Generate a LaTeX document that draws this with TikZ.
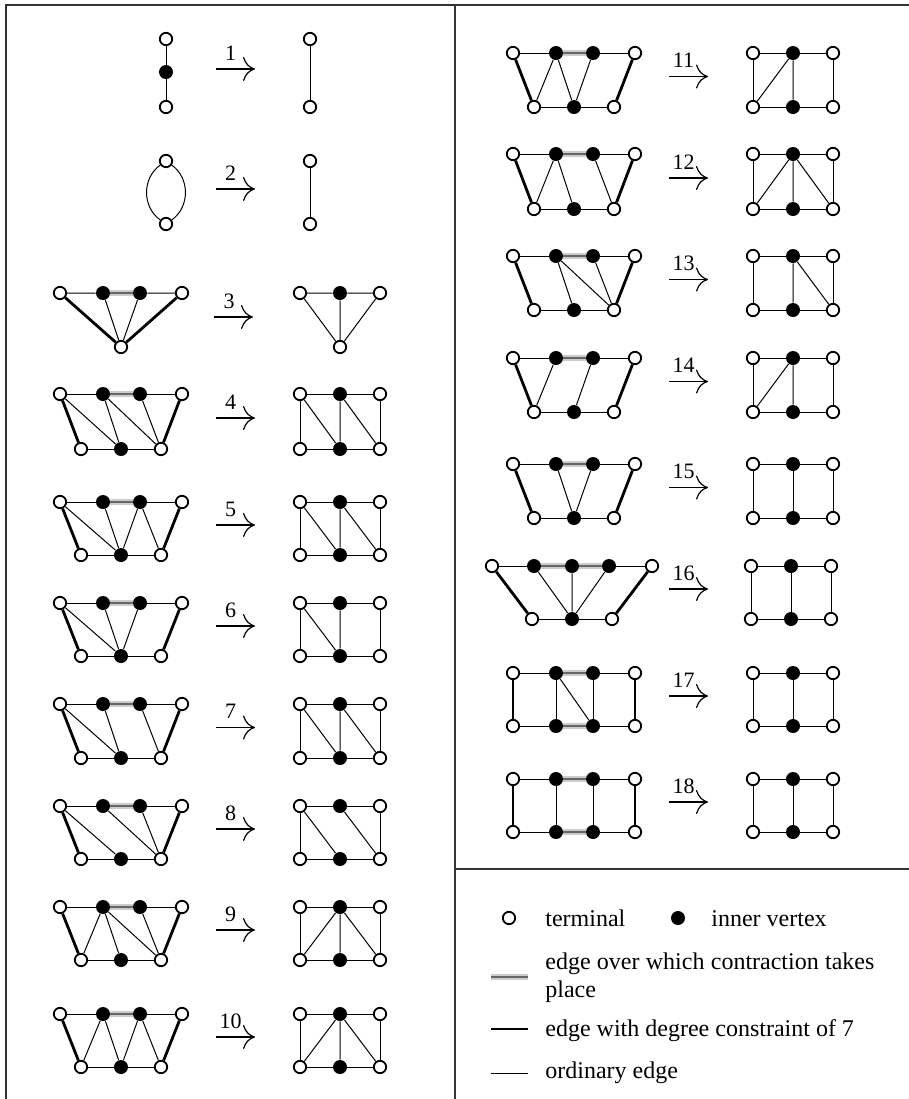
\documentclass[tikz,border=0pt]{standalone}
\usepackage{fontspec}
\setmainfont{Liberation Serif}
\usetikzlibrary{arrows.meta, positioning, calc}

\begin{document}
\begin{tikzpicture}[
    x=0.5pt, y=-0.5pt,
    tvert/.style={circle, draw, fill=white, line width=0.9pt, minimum size=6.2pt, inner sep=0pt},
    ivert/.style={circle, fill=black, minimum size=7pt, inner sep=0pt},
    plain/.style={line width=0.5pt},
    heavy/.style={line width=1.4pt},
    contr/.style={line width=3.2pt, gray!40, postaction={draw, gray!80!black, line width=0.6pt}},
    arr/.style={-{To[length=6pt, width=12pt]}, line width=0.6pt},
    num/.style={anchor=base, inner sep=0pt, font=\fontsize{11}{12}\selectfont},
    txt/.style={anchor=base west, inner sep=0pt, font=\fontsize{12}{14}\selectfont},
    frame/.style={line width=0.7pt, black!80},
]
\useasboundingbox (0,0) rectangle (909,1099);
\draw[frame] (6,1099) -- (6,5) -- (909,5);
\draw[frame] (455,5) -- (455,1099);
\draw[frame] (455,869) -- (909,869);

% rule 1
\node[tvert] (g1t) at (166,39) {};
\node[ivert] (g1m) at (166,72) {};
\node[tvert] (g1b) at (166,107) {};
\draw[plain] (g1t) -- (g1m) -- (g1b);
\node[tvert] (h1t) at (310,39) {};
\node[tvert] (h1b) at (310,107) {};
\draw[plain] (h1t) -- (h1b);
\coordinate (a1) at (216,69);
\coordinate (b1) at (255,69);
\draw[arr] (a1) -- (b1);
\node[num] (n1) at (230.5,60) {1};

% rule 2
\node[tvert] (g2t) at (166,161) {};
\node[tvert] (g2b) at (166,224) {};
\draw[plain] (g2t) .. controls (142,178) and (142,207) .. (g2b);
\draw[plain] (g2t) .. controls (190,178) and (190,207) .. (g2b);
\node[tvert] (h2t) at (310,161) {};
\node[tvert] (h2b) at (310,224) {};
\draw[plain] (h2t) -- (h2b);
\coordinate (a2) at (216,189);
\coordinate (b2) at (255,189);
\draw[arr] (a2) -- (b2);
\node[num] (n2) at (230.5,180) {2};

% rule 3
\node[tvert] (g3tl) at (60,293) {};
\node[ivert] (g3t1) at (103,293) {};
\node[ivert] (g3t2) at (140,293) {};
\node[tvert] (g3tr) at (182,293) {};
\node[tvert] (g3b) at (121,347) {};
\draw[plain] (g3tl) -- (g3t1) (g3t2) -- (g3tr) (g3t1) -- (g3b) (g3t2) -- (g3b);
\draw[contr] (g3t1) -- (g3t2);
\draw[heavy] (g3tl) -- (g3b) (g3tr) -- (g3b);
\node[tvert] (h3tl) at (300,293) {};
\node[ivert] (h3tm) at (340,293) {};
\node[tvert] (h3tr) at (380,293) {};
\node[tvert] (h3b) at (340,347) {};
\draw[plain] (h3tl) -- (h3tm) -- (h3tr) -- (h3b) -- (h3tl) (h3tm) -- (h3b);
\coordinate (a3) at (214,317);
\coordinate (b3) at (253,317);
\draw[arr] (a3) -- (b3);
\node[num] (n3) at (229,308) {3};

% rules 4--15
\foreach \r/\dx/\yt/\yb in {4/0/394/449, 5/0/502/555, 6/0/603/656, 7/0/704/758,
    8/0/806/859, 9/0/907/960, 10/0/1014/1067, 11/453/53/107, 12/453/154/209,
    13/453/256/310, 14/453/358/412, 15/453/464/518}{
  \node[tvert] (g\r tl) at (60+\dx,\yt) {};
  \node[ivert] (g\r t1) at (103+\dx,\yt) {};
  \node[ivert] (g\r t2) at (140+\dx,\yt) {};
  \node[tvert] (g\r tr) at (182+\dx,\yt) {};
  \node[tvert] (g\r bl) at (81+\dx,\yb) {};
  \node[ivert] (g\r bm) at (121+\dx,\yb) {};
  \node[tvert] (g\r br) at (161+\dx,\yb) {};
  \draw[plain] (g\r tl) -- (g\r t1) (g\r t2) -- (g\r tr) (g\r bl) -- (g\r bm) -- (g\r br);
  \draw[contr] (g\r t1) -- (g\r t2);
  \draw[heavy] (g\r tl) -- (g\r bl) (g\r tr) -- (g\r br);
  \node[tvert] (h\r tl) at (300+\dx,\yt) {};
  \node[ivert] (h\r tm) at (340+\dx,\yt) {};
  \node[tvert] (h\r tr) at (380+\dx,\yt) {};
  \node[tvert] (h\r bl) at (300+\dx,\yb) {};
  \node[ivert] (h\r bm) at (340+\dx,\yb) {};
  \node[tvert] (h\r br) at (380+\dx,\yb) {};
  \draw[plain] (h\r tl) -- (h\r tm) -- (h\r tr) -- (h\r br) -- (h\r bm) -- (h\r bl) -- (h\r tl);
  \coordinate (a\r) at (216+\dx,{(\yt+\yb)/2-3.5});
  \coordinate (b\r) at (255+\dx,{(\yt+\yb)/2-3.5});
  \draw[arr] (a\r) -- (b\r);
  \node[num] (n\r) at (230.5+\dx,{(\yt+\yb)/2-12.5}) {\r};
}
\draw[plain] (g4tl) -- (g4bm) (g4t1) -- (g4bm) (g4t1) -- (g4br) (g4t2) -- (g4br);
\draw[plain] (h4tl) -- (h4bm) (h4tm) -- (h4bm) (h4tm) -- (h4br);
\draw[plain] (g5tl) -- (g5bm) (g5t1) -- (g5bm) (g5t2) -- (g5bm) (g5t2) -- (g5br);
\draw[plain] (h5tl) -- (h5bm) (h5tm) -- (h5bm) (h5tm) -- (h5br);
\draw[plain] (g6tl) -- (g6bm) (g6t1) -- (g6bm) (g6t2) -- (g6bm);
\draw[plain] (h6tl) -- (h6bm) (h6tm) -- (h6bm);
\draw[plain] (g7tl) -- (g7bm) (g7t1) -- (g7bm) (g7t2) -- (g7br);
\draw[plain] (h7tl) -- (h7bm) (h7tm) -- (h7bm) (h7tm) -- (h7br);
\draw[plain] (g8tl) -- (g8bm) (g8t1) -- (g8br) (g8t2) -- (g8br);
\draw[plain] (h8tl) -- (h8bm) (h8tm) -- (h8br);
\draw[plain] (g9bl) -- (g9t1) (g9t1) -- (g9bm) (g9t1) -- (g9br) (g9t2) -- (g9br);
\draw[plain] (h9bl) -- (h9tm) (h9tm) -- (h9bm) (h9tm) -- (h9br);
\draw[plain] (g10bl) -- (g10t1) (g10t1) -- (g10bm) (g10t2) -- (g10bm) (g10t2) -- (g10br);
\draw[plain] (h10bl) -- (h10tm) (h10tm) -- (h10bm) (h10tm) -- (h10br);
\draw[plain] (g11bl) -- (g11t1) (g11t1) -- (g11bm) (g11t2) -- (g11bm);
\draw[plain] (h11bl) -- (h11tm) (h11tm) -- (h11bm);
\draw[plain] (g12bl) -- (g12t1) (g12t1) -- (g12bm) (g12t2) -- (g12br);
\draw[plain] (h12bl) -- (h12tm) (h12tm) -- (h12bm) (h12tm) -- (h12br);
\draw[plain] (g13t1) -- (g13bm) (g13t1) -- (g13br) (g13t2) -- (g13br);
\draw[plain] (h13tm) -- (h13bm) (h13tm) -- (h13br);
\draw[plain] (g14bl) -- (g14t1) (g14t2) -- (g14bm);
\draw[plain] (h14bl) -- (h14tm) (h14tm) -- (h14bm);
\draw[plain] (g15t1) -- (g15bm) (g15t2) -- (g15bm);
\draw[plain] (h15tm) -- (h15bm);

% rule 16
\node[tvert] (g16tl) at (492,566) {};
\node[ivert] (g16t1) at (534,566) {};
\node[ivert] (g16t2) at (572,566) {};
\node[ivert] (g16t3) at (609,566) {};
\node[tvert] (g16tr) at (652,566) {};
\node[tvert] (g16bl) at (532,619) {};
\node[ivert] (g16bm) at (572,619) {};
\node[tvert] (g16br) at (612,619) {};
\draw[plain] (g16tl) -- (g16t1) (g16t3) -- (g16tr) (g16bl) -- (g16bm) -- (g16br);
\draw[plain] (g16t1) -- (g16bm) (g16t2) -- (g16bm) (g16t3) -- (g16bm);
\draw[contr] (g16t1) -- (g16t2);
\draw[contr] (g16t2) -- (g16t3);
\draw[heavy] (g16tl) -- (g16bl) (g16tr) -- (g16br);
\node[tvert] (h16tl) at (751,566) {};
\node[ivert] (h16tm) at (791,566) {};
\node[tvert] (h16tr) at (831,566) {};
\node[tvert] (h16bl) at (751,619) {};
\node[ivert] (h16bm) at (791,619) {};
\node[tvert] (h16br) at (831,619) {};
\draw[plain] (h16tl) -- (h16tm) -- (h16tr) -- (h16br) -- (h16bm) -- (h16bl) -- (h16tl) (h16tm) -- (h16bm);
\coordinate (a16) at (669,589);
\coordinate (b16) at (708,589);
\draw[arr] (a16) -- (b16);
\node[num] (n16) at (683.5,580) {16};

% rules 17 and 18
\foreach \r/\yt/\yb in {17/673/726, 18/779/832}{
  \node[tvert] (g\r tl) at (513,\yt) {};
  \node[ivert] (g\r t1) at (556,\yt) {};
  \node[ivert] (g\r t2) at (593,\yt) {};
  \node[tvert] (g\r tr) at (635,\yt) {};
  \node[tvert] (g\r bl) at (513,\yb) {};
  \node[ivert] (g\r b1) at (556,\yb) {};
  \node[ivert] (g\r b2) at (593,\yb) {};
  \node[tvert] (g\r br) at (635,\yb) {};
  \draw[plain] (g\r tl) -- (g\r t1) (g\r t2) -- (g\r tr) (g\r bl) -- (g\r b1) (g\r b2) -- (g\r br);
  \draw[plain] (g\r t1) -- (g\r b1) (g\r t2) -- (g\r b2);
  \draw[contr] (g\r t1) -- (g\r t2);
  \draw[contr] (g\r b1) -- (g\r b2);
  \draw[heavy] (g\r tl) -- (g\r bl) (g\r tr) -- (g\r br);
  \node[tvert] (h\r tl) at (753,\yt) {};
  \node[ivert] (h\r tm) at (793,\yt) {};
  \node[tvert] (h\r tr) at (833,\yt) {};
  \node[tvert] (h\r bl) at (753,\yb) {};
  \node[ivert] (h\r bm) at (793,\yb) {};
  \node[tvert] (h\r br) at (833,\yb) {};
  \draw[plain] (h\r tl) -- (h\r tm) -- (h\r tr) -- (h\r br) -- (h\r bm) -- (h\r bl) -- (h\r tl) (h\r tm) -- (h\r bm);
  \coordinate (a\r) at (669,{(\yt+\yb)/2-3.5});
  \coordinate (b\r) at (708,{(\yt+\yb)/2-3.5});
  \draw[arr] (a\r) -- (b\r);
  \node[num] (n\r) at (683.5,{(\yt+\yb)/2-12.5}) {\r};
}
\draw[plain] (g17t1) -- (g17b2);

% legend
\node[tvert] (lt) at (509,918) {};
\node[txt] (ltx) at (545,926) {terminal};
\node[ivert] (li) at (678,918) {};
\node[txt] (lix) at (711,926) {inner vertex};
\coordinate (lc1) at (491,977);
\coordinate (lc2) at (528,977);
\draw[contr] (lc1) -- (lc2);
\node[anchor=north west, inner sep=0pt, text width=164.5pt, align=justify,
      font=\fontsize{12}{14}\selectfont] (lcx) at (545,952.5)
      {edge over which contraction takes place};
\coordinate (lh1) at (491,1029);
\coordinate (lh2) at (528,1029);
\draw[heavy] (lh1) -- (lh2);
\node[txt] (lhx) at (545,1036) {edge with degree constraint of 7};
\coordinate (lo1) at (491,1073);
\coordinate (lo2) at (528,1073);
\draw[plain] (lo1) -- (lo2);
\node[txt] (lox) at (545,1078) {ordinary edge};
\end{tikzpicture}
\end{document}
